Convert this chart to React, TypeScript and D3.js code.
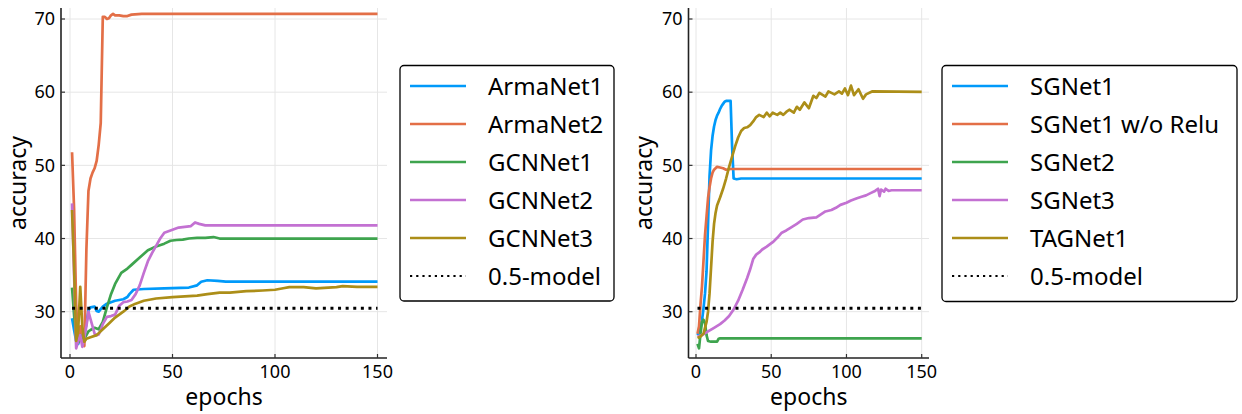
import { useEffect, useRef } from "react";
import * as d3 from "d3";

type Pt = [number, number];

// left panel
const armaNet1: Pt[] = [
  [1, 29.1], [2, 27.5], [3, 26.0], [4, 25.6], [5, 26.5], [6, 26.0], [7, 26.8], [8, 28.4],
  [9, 30.2], [10, 30.6], [12, 30.7], [13, 30.1], [14, 30.0], [16, 30.7], [18, 31.1], [20, 31.3],
  [22, 31.5], [26, 31.7], [28, 32.0], [29, 32.4], [31, 33.0], [36, 33.1], [46, 33.2], [58, 33.3],
  [62, 33.6], [64, 34.1], [67, 34.3], [72, 34.2], [76, 34.1], [150, 34.1],
];
const armaNet2: Pt[] = [
  [1, 51.8], [2, 44.0], [3, 31.0], [4, 25.8], [5, 28.0], [6, 26.5], [7, 25.3], [8, 38.5],
  [9, 46.5], [10, 48.2], [11, 49.0], [12, 49.6], [13, 50.6], [14, 52.8], [15, 55.8], [16, 70.3],
  [17, 70.3], [18, 70.0], [19, 70.1], [20, 70.5], [21, 70.7], [22, 70.5], [24, 70.5], [26, 70.4],
  [28, 70.4], [30, 70.6], [35, 70.7], [150, 70.7],
];
const gcnNet1: Pt[] = [
  [1, 33.3], [2, 29.5], [3, 26.5], [4, 25.8], [5, 26.8], [6, 26.0], [7, 26.3], [8, 26.8],
  [9, 27.3], [10, 27.5], [12, 27.8], [14, 27.6], [16, 28.6], [18, 30.6], [20, 32.4], [22, 33.8],
  [25, 35.3], [28, 35.9], [30, 36.4], [34, 37.4], [38, 38.4], [42, 38.9], [46, 39.3], [49, 39.7],
  [52, 39.8], [55, 39.85], [58, 40.0], [62, 40.1], [66, 40.1], [70, 40.2], [73, 40.0], [150, 40.0],
];
const gcnNet2: Pt[] = [
  [1, 44.8], [2, 35.0], [3, 25.0], [4, 26.0], [5, 26.8], [6, 25.2], [7, 26.5], [8, 28.0],
  [9, 30.0], [10, 29.0], [11, 28.0], [12, 27.0], [13, 26.8], [14, 26.9], [15, 27.5], [16, 28.3],
  [18, 29.3], [20, 29.4], [22, 29.6], [24, 30.8], [26, 31.3], [28, 31.4], [30, 31.6], [32, 32.4],
  [34, 33.6], [36, 35.3], [38, 36.9], [40, 38.0], [42, 39.0], [44, 40.0], [46, 40.8], [48, 41.0],
  [50, 41.2], [53, 41.5], [56, 41.6], [59, 41.7], [61, 42.2], [63, 42.0], [66, 41.8], [150, 41.8],
];
const gcnNet3: Pt[] = [
  [1, 43.9], [2, 36.0], [3, 26.0], [4, 27.5], [5, 33.4], [6, 28.0], [7, 25.9], [8, 26.3],
  [10, 26.5], [13, 26.8], [16, 27.6], [19, 28.4], [22, 29.2], [26, 30.0], [29, 30.7], [32, 31.1],
  [36, 31.5], [42, 31.8], [50, 32.0], [56, 32.1], [62, 32.2], [67, 32.4], [73, 32.6], [78, 32.6],
  [86, 32.8], [94, 32.9], [100, 33.0], [104, 33.2], [107, 33.35], [114, 33.35], [120, 33.2],
  [126, 33.3], [130, 33.35], [133, 33.5], [140, 33.4], [150, 33.4],
];

// right panel
const sgNet1: Pt[] = [
  [1, 26.8], [2, 27.2], [3, 27.8], [4, 28.8], [5, 30.5], [6, 32.5], [7, 35.5], [8, 42.0],
  [9, 48.5], [10, 52.0], [11, 54.0], [12, 55.3], [13, 56.2], [14, 56.8], [15, 57.2], [16, 57.7],
  [17, 58.1], [18, 58.4], [19, 58.7], [20, 58.8], [23, 58.8], [24, 52.5], [25, 48.2], [27, 48.1],
  [30, 48.2], [150, 48.2],
];
const sgNet1NoRelu: Pt[] = [
  [1, 27.0], [2, 28.0], [3, 31.0], [4, 33.5], [5, 37.0], [6, 40.5], [7, 43.0], [8, 45.5],
  [9, 47.0], [10, 48.2], [11, 49.0], [12, 49.4], [14, 49.8], [16, 49.7], [18, 49.6], [20, 49.4],
  [23, 49.5], [150, 49.5],
];
const sgNet2: Pt[] = [
  [1, 25.6], [2, 25.0], [3, 27.0], [4, 28.6], [5, 28.9], [6, 28.4], [7, 26.8], [8, 26.0],
  [10, 25.9], [14, 25.9], [15, 26.3], [16, 26.35], [150, 26.35],
];
const sgNet3: Pt[] = [
  [1, 26.6], [4, 26.8], [8, 27.3], [12, 27.8], [16, 28.3], [19, 28.8], [22, 29.4], [25, 30.3],
  [28, 31.5], [31, 33.0], [34, 34.6], [36, 35.8], [38, 37.2], [40, 37.8], [42, 38.1], [44, 38.5],
  [47, 38.9], [51, 39.5], [54, 40.1], [57, 40.8], [60, 41.1], [63, 41.5], [67, 42.0], [71, 42.6],
  [75, 42.8], [80, 42.9], [83, 43.3], [86, 43.7], [90, 43.9], [93, 44.2], [96, 44.6], [100, 44.9],
  [103, 45.2], [107, 45.5], [110, 45.7], [113, 45.9], [116, 46.2], [119, 46.5], [121, 46.8],
  [122, 45.8], [123, 46.7], [125, 46.4], [126, 46.8], [128, 46.5], [130, 46.6], [150, 46.6],
];
const tagNet1: Pt[] = [
  [1, 26.4], [3, 26.6], [5, 27.0], [7, 28.6], [8, 30.0], [9, 32.5], [10, 36.0], [11, 39.5],
  [12, 42.0], [13, 43.5], [14, 44.5], [16, 45.6], [18, 46.8], [20, 48.2], [22, 49.8], [24, 51.2],
  [26, 52.6], [28, 53.8], [30, 54.7], [32, 55.1], [34, 55.2], [36, 55.5], [38, 56.0], [40, 56.6],
  [42, 56.9], [45, 56.6], [47, 57.2], [49, 56.7], [51, 57.2], [54, 56.9], [56, 57.2], [58, 56.9],
  [60, 57.3], [62, 57.6], [65, 57.2], [67, 58.0], [69, 57.6], [72, 58.6], [75, 57.8], [78, 59.5],
  [80, 59.2], [82, 59.9], [86, 59.4], [88, 60.1], [90, 59.9], [92, 59.7], [95, 60.1], [97, 59.8],
  [99, 60.5], [101, 59.6], [103, 60.9], [105, 59.6], [108, 60.4], [111, 59.1], [113, 59.7],
  [117, 60.1], [150, 60.05],
];

const baselineValue = 30.46;
const xTicks = [0, 50, 100, 150];
const yTicks = [30, 40, 50, 60, 70];
const colors = ["#009AFA", "#E36F47", "#3EA44E", "#C371D2", "#AC8E18"];

const leftNames = ["ArmaNet1", "ArmaNet2", "GCNNet1", "GCNNet2", "GCNNet3"];
const rightNames = ["SGNet1", "SGNet1 w/o Relu", "SGNet2", "SGNet3", "TAGNet1"];

const FONT = "'Noto Sans', sans-serif";

interface PanelCfg {
  series: Pt[][];
  names: string[];
  axisLeft: number;
  axisRight: number;
  x0: number; // pixel of epoch 0
  x150: number; // pixel of epoch 150
  ylabelX: number;
  legend: { x: number; y: number; w: number; h: number; lineX: number; textX: number };
}

const panels: PanelCfg[] = [
  {
    series: [armaNet1, armaNet2, gcnNet1, gcnNet2, gcnNet3],
    names: leftNames,
    axisLeft: 61,
    axisRight: 387,
    x0: 70,
    x150: 377.5,
    ylabelX: 26,
    legend: { x: 400, y: 65.5, w: 214, h: 235.5, lineX: 410, textX: 488 },
  },
  {
    series: [sgNet1, sgNet1NoRelu, sgNet2, sgNet3, tagNet1],
    names: rightNames,
    axisLeft: 688.5,
    axisRight: 929,
    x0: 696,
    x150: 921.7,
    ylabelX: 652,
    legend: { x: 942, y: 65.5, w: 295, h: 236, lineX: 952, textX: 1030 },
  },
];

export default function App() {
  const svgRef = useRef<SVGSVGElement>(null);

  useEffect(() => {
    if (!svgRef.current) return;
    const svg = d3.select(svgRef.current);
    svg.selectAll("*").remove();

    const top = 8;
    const bottom = 358;
    const y = d3.scaleLinear().domain([30, 70]).range([311.7, 19]);

    panels.forEach((p) => {
      const x = d3.scaleLinear().domain([0, 150]).range([p.x0, p.x150]);
      const g = svg.append("g");

      // grid
      g.selectAll(".gx")
        .data(xTicks)
        .join("line")
        .attr("x1", (d) => x(d))
        .attr("x2", (d) => x(d))
        .attr("y1", top)
        .attr("y2", bottom)
        .attr("stroke", "#e6e6e6")
        .attr("stroke-width", 1);
      g.selectAll(".gy")
        .data(yTicks)
        .join("line")
        .attr("x1", p.axisLeft)
        .attr("x2", p.axisRight)
        .attr("y1", (d) => y(d))
        .attr("y2", (d) => y(d))
        .attr("stroke", "#e6e6e6")
        .attr("stroke-width", 1);

      // series lines
      const line = d3
        .line<Pt>()
        .x((d) => x(d[0]))
        .y((d) => y(d[1]));

      p.series.forEach((s, i) => {
        g.append("path")
          .datum(s)
          .attr("fill", "none")
          .attr("stroke", colors[i])
          .attr("stroke-width", 2.7)
          .attr("stroke-linejoin", "round")
          .attr("d", line);
      });

      // 0.5-model reference
      g.append("line")
        .attr("x1", x(1))
        .attr("x2", x(150))
        .attr("y1", y(baselineValue))
        .attr("y2", y(baselineValue))
        .attr("stroke", "#000")
        .attr("stroke-width", 3)
        .attr("stroke-dasharray", "3,4.6");

      // axes
      g.append("line")
        .attr("x1", p.axisLeft)
        .attr("x2", p.axisLeft)
        .attr("y1", top)
        .attr("y2", bottom)
        .attr("stroke", "#222")
        .attr("stroke-width", 1.6);
      g.append("line")
        .attr("x1", p.axisLeft)
        .attr("x2", p.axisRight)
        .attr("y1", bottom)
        .attr("y2", bottom)
        .attr("stroke", "#222")
        .attr("stroke-width", 1.6);

      // tick marks
      g.selectAll(".ty")
        .data(yTicks)
        .join("line")
        .attr("x1", p.axisLeft)
        .attr("x2", p.axisLeft + 4)
        .attr("y1", (d) => y(d))
        .attr("y2", (d) => y(d))
        .attr("stroke", "#333")
        .attr("stroke-width", 1.2);
      g.selectAll(".tx")
        .data(xTicks)
        .join("line")
        .attr("x1", (d) => x(d))
        .attr("x2", (d) => x(d))
        .attr("y1", bottom)
        .attr("y2", bottom - 4)
        .attr("stroke", "#333")
        .attr("stroke-width", 1.2);

      // tick labels
      g.selectAll(".ly")
        .data(yTicks)
        .join("text")
        .attr("x", p.axisLeft - 6)
        .attr("y", (d) => y(d) + 6.3)
        .attr("text-anchor", "end")
        .attr("font-family", FONT)
        .attr("font-size", 18)
        .attr("fill", "#000")
        .text((d) => d);
      g.selectAll(".lx")
        .data(xTicks)
        .join("text")
        .attr("x", (d) => x(d))
        .attr("y", 377.5)
        .attr("text-anchor", "middle")
        .attr("font-family", FONT)
        .attr("font-size", 18)
        .attr("fill", "#000")
        .text((d) => d);

      // axis labels
      g.append("text")
        .attr("x", (p.axisLeft + p.axisRight) / 2)
        .attr("y", 405)
        .attr("text-anchor", "middle")
        .attr("font-family", FONT)
        .attr("font-size", 23)
        .text("epochs");
      g.append("text")
        .attr("transform", `translate(${p.ylabelX},${(top + bottom) / 2}) rotate(-90)`)
        .attr("text-anchor", "middle")
        .attr("font-family", FONT)
        .attr("font-size", 23)
        .text("accuracy");

      // legend
      const L = p.legend;
      const lg = g.append("g");
      lg.append("rect")
        .attr("x", L.x)
        .attr("y", L.y)
        .attr("width", L.w)
        .attr("height", L.h)
        .attr("rx", 4)
        .attr("fill", "#fff")
        .attr("stroke", "#000")
        .attr("stroke-width", 1.3);
      const rowY = (i: number) => L.y + 20.5 + i * 38;
      const entries = [...p.names, "0.5-model"];
      entries.forEach((name, i) => {
        const ly = rowY(i);
        const isRef = i === entries.length - 1;
        lg.append("line")
          .attr("x1", L.lineX)
          .attr("x2", L.lineX + 56)
          .attr("y1", ly)
          .attr("y2", ly)
          .attr("stroke", isRef ? "#000" : colors[i])
          .attr("stroke-width", isRef ? 2.2 : 2.7)
          .attr("stroke-dasharray", isRef ? "2.2,4" : null);
        lg.append("text")
          .attr("x", L.textX)
          .attr("y", ly + 8.5)
          .attr("font-family", FONT)
          .attr("font-size", 24)
          .attr("fill", "#000")
          .text(name);
      });
    });
  }, []);

  return (
    <svg
      ref={svgRef}
      width={1242}
      height={414}
      style={{ position: "absolute", left: 0, top: 0, background: "#fff" }}
    />
  );
}
